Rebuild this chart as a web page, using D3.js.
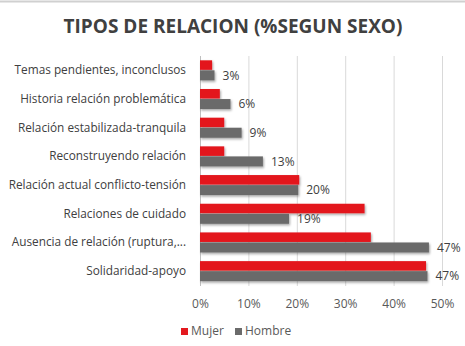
<!DOCTYPE html>
<html><head><meta charset="utf-8">
<script src="https://cdn.jsdelivr.net/npm/d3@7"></script>
<style>body{margin:0;background:#fff}svg{display:block}</style>
</head><body>
<script>
const categories = ["Temas pendientes, inconclusos","Historia relación problemática","Relación estabilizada-tranquila","Reconstruyendo relación","Relación actual conflicto-tensión","Relaciones de cuidado","Ausencia de relación (ruptura,...","Solidaridad-apoyo"];
const mujer = [2.5, 4.1, 5.0, 5.0, 20.5, 34.0, 35.3, 46.7];
const hombre = [3.0, 6.3, 8.6, 13.0, 20.3, 18.4, 47.3, 47.0];
const hombreLabels = ["3%","6%","9%","13%","20%","19%","47%","47%"];
const xTicks = [0,10,20,30,40,50];
const seriesNames = ["Mujer","Hombre"];
const colors = ["#e3191f","#6b6b6b"];
const title = "TIPOS DE RELACION (%SEGUN SEXO)";

const W=465,H=346;
const svg=d3.select("body").append("svg").attr("width",W).attr("height",H);
const defs=svg.append("defs");
const f=defs.append("filter").attr("id","sh").attr("x","-10%").attr("y","-30%").attr("width","130%").attr("height","190%");
f.append("feDropShadow").attr("dx",1).attr("dy",1.5).attr("stdDeviation",1.2).attr("flood-color","#000").attr("flood-opacity",0.35);

svg.append("line").attr("x1",0).attr("x2",W).attr("y1",1.5).attr("y2",1.5).attr("stroke","#d0d0d0").attr("stroke-width",2);

svg.append("text").attr("x",233).attr("y",33).attr("text-anchor","middle")
  .attr("font-family","'Open Sans',sans-serif").attr("font-weight","bold").attr("font-size",19)
  .attr("fill","#404040").text(title);

const x=d3.scaleLinear().domain([0,50]).range([200,442]);
const y=d3.scaleBand().domain(categories).range([56,285.5]).paddingInner(0.3).paddingOuter(0.15);
const sub=d3.scaleBand().domain(seriesNames).range([0,y.bandwidth()]).padding(0);

const g=svg.append("g");
g.selectAll(".grid").data(xTicks).enter().append("line")
  .attr("x1",d=>x(d)+0.5).attr("x2",d=>x(d)+0.5).attr("y1",56).attr("y2",286)
  .attr("stroke",d=>d===0?"#bfbfbf":"#d9d9d9").attr("stroke-width",1);

const xAxis=d3.axisBottom(x).tickValues(xTicks).tickFormat(d=>d+"%").tickSize(0);
const ax=svg.append("g").attr("transform","translate(0,296)").call(xAxis);
ax.select(".domain").remove();
ax.selectAll("text").attr("font-family","'Open Sans',sans-serif").attr("font-size",12).attr("fill","#595959");

const yAxis=d3.axisLeft(y).tickSize(0).tickPadding(0);
const ay=svg.append("g").attr("transform","translate(186,0)").call(yAxis);
ay.select(".domain").remove();
ay.selectAll("text").attr("font-family","'Open Sans',sans-serif").attr("font-size",11.8).attr("fill","#404040");

const rows=categories.map((c,i)=>({c,m:mujer[i],h:hombre[i],l:hombreLabels[i]}));
const bars=svg.append("g").attr("filter","url(#sh)");
bars.selectAll(".m").data(rows).enter().append("rect")
  .attr("x",x(0)).attr("y",d=>y(d.c)+sub("Mujer")).attr("height",sub.bandwidth()-0.5)
  .attr("width",d=>x(d.m)-x(0)).attr("fill",colors[0]);
bars.selectAll(".h").data(rows).enter().append("rect")
  .attr("x",x(0)).attr("y",d=>y(d.c)+sub("Hombre")).attr("height",sub.bandwidth())
  .attr("width",d=>x(d.h)-x(0)).attr("fill",colors[1]);

svg.selectAll(".lbl").data(rows).enter().append("text")
  .attr("x",d=>x(d.h)+8).attr("y",d=>y(d.c)+sub("Hombre")+sub.bandwidth()/2+1)
  .attr("dominant-baseline","middle")
  .attr("font-family","'Open Sans',sans-serif").attr("font-size",12).attr("fill","#404040")
  .text(d=>d.l);

const lg=svg.append("g");
const lx=[181,235];
seriesNames.forEach((s,i)=>{
  lg.append("rect").attr("x",lx[i]).attr("y",328).attr("width",7).attr("height",7).attr("fill",colors[i]);
  lg.append("text").attr("x",lx[i]+10).attr("y",332).attr("dominant-baseline","middle")
    .attr("font-family","'Open Sans',sans-serif").attr("font-size",12).attr("fill","#595959").text(s);
});
</script>
</body></html>
